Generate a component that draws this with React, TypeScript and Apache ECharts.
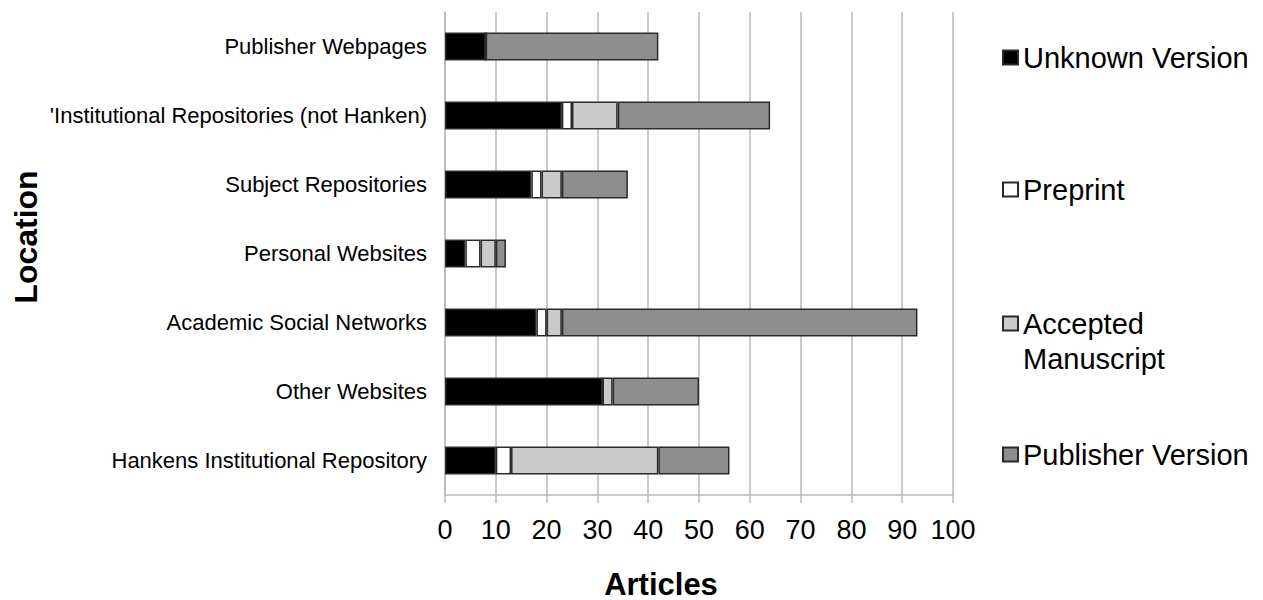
import React, { useEffect, useRef } from "react";
import * as echarts from "echarts";

const categories = [
  "Publisher Webpages",
  "'Institutional Repositories (not Hanken)",
  "Subject Repositories",
  "Personal Websites",
  "Academic Social Networks",
  "Other Websites",
  "Hankens Institutional Repository",
];
const unknownVersion = [8, 23, 17, 4, 18, 31, 10];
const preprint = [0, 2, 2, 3, 2, 0, 3];
const acceptedManuscript = [0, 9, 4, 3, 3, 2, 29];
const publisherVersion = [34, 30, 13, 2, 70, 17, 14];
const xTicks = { min: 0, max: 100, interval: 10 };

const FONT = "'Liberation Sans', Arial, Helvetica, sans-serif";
const GRID_GRAY = "#b9b9b9";

export default function App() {
  const ref = useRef<HTMLDivElement>(null);
  useEffect(() => {
    if (!ref.current) return;
    const chart = echarts.init(ref.current, undefined, { renderer: "svg" });
    const mk = (name: string, data: number[], color: string) => ({
      name,
      type: "bar",
      stack: "total",
      data,
      barWidth: 28,
      itemStyle: { color, borderColor: "#2a2a2a", borderWidth: 1.5 },
    });
    const legendBase = {
      orient: "vertical",
      left: 1002,
      padding: 0,
      itemWidth: 15,
      itemHeight: 14,
      icon: "rect",
      textStyle: { fontFamily: FONT, fontSize: 29, color: "#000" },
    };
    chart.setOption({
      animation: false,
      backgroundColor: "#fff",
      textStyle: { fontFamily: FONT },
      grid: { left: 445, right: 310, top: 12, bottom: 105, containLabel: false },
      legend: [
        { ...legendBase, data: ["Unknown Version"], top: 43 },
        { ...legendBase, data: ["Preprint"], top: 175 },
        {
          ...legendBase,
          data: ["Accepted Manuscript"],
          top: 271,
          formatter: () => " \nAccepted\nManuscript",
          textStyle: { ...legendBase.textStyle, lineHeight: 35 },
        },
        { ...legendBase, data: ["Publisher Version"], top: 440 },
      ],
      xAxis: {
        type: "value",
        min: xTicks.min,
        max: xTicks.max,
        interval: xTicks.interval,
        axisLine: { show: true, lineStyle: { color: GRID_GRAY, width: 1.5 } },
        axisTick: { show: true, length: 8, lineStyle: { color: GRID_GRAY, width: 1.5 } },
        splitLine: { show: true, lineStyle: { color: GRID_GRAY, width: 1.5 } },
        axisLabel: { fontFamily: FONT, fontSize: 27, color: "#000", margin: 21 },
      },
      yAxis: {
        type: "category",
        data: categories,
        inverse: true,
        axisLine: { show: true, lineStyle: { color: GRID_GRAY, width: 1.5 } },
        axisTick: { show: false },
        axisLabel: { fontFamily: FONT, fontSize: 22, color: "#000", margin: 18 },
      },
      graphic: [
        {
          type: "text",
          x: 661,
          y: 584,
          style: {
            text: "Articles",
            fontFamily: FONT,
            fontSize: 31,
            fontWeight: "bold",
            fill: "#000",
            align: "center",
            verticalAlign: "middle",
          },
        },
        {
          type: "text",
          x: 26,
          y: 237,
          rotation: Math.PI / 2,
          style: {
            text: "Location",
            fontFamily: FONT,
            fontSize: 32,
            fontWeight: "bold",
            fill: "#000",
            align: "center",
            verticalAlign: "middle",
          },
        },
      ],
      series: [
        mk("Unknown Version", unknownVersion, "#000000"),
        mk("Preprint", preprint, "#ffffff"),
        mk("Accepted Manuscript", acceptedManuscript, "#cbcbcb"),
        mk("Publisher Version", publisherVersion, "#8e8e8e"),
      ],
    });
    return () => chart.dispose();
  }, []);
  return (
    <div
      ref={ref}
      style={{ position: "fixed", left: 0, top: 0, width: 1263, height: 600 }}
    />
  );
}
